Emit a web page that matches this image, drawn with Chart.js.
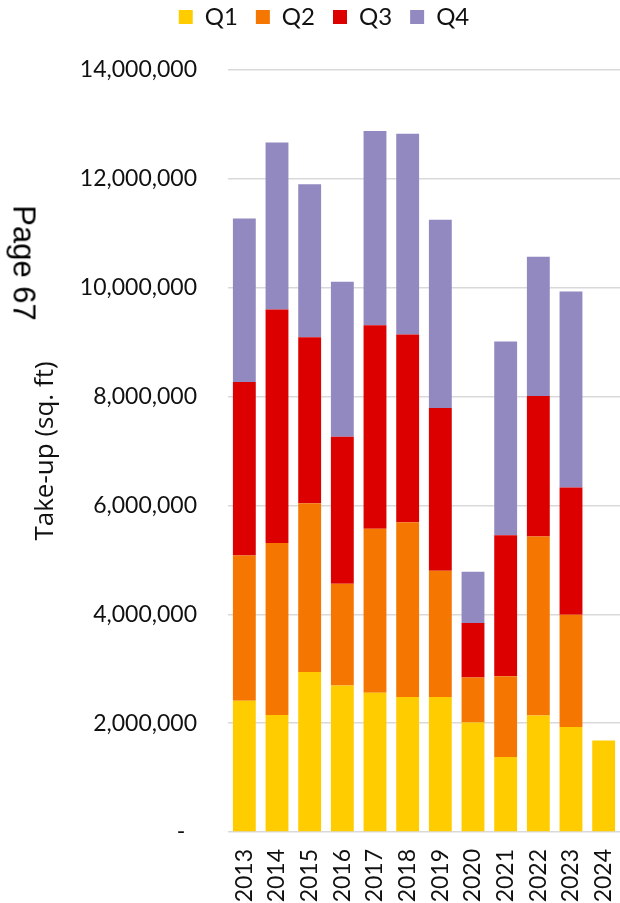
<!DOCTYPE html>
<html>
<head>
<meta charset="utf-8">
<script src="https://cdn.jsdelivr.net/npm/chart.js@4.4.1/dist/chart.umd.min.js"></script>
<style>
  html, body { margin: 0; padding: 0; background: #fff; overflow: hidden; }
  #wrap { position: relative; width: 620px; height: 912px; }
  #page {
    position: absolute; left: 23.5px; top: 262.5px;
    transform: translate(-50%, -50%) rotate(90deg);
    font: 31px "Liberation Sans", Arial, sans-serif; line-height: 1;
    white-space: nowrap; color: #000;
  }
</style>
</head>
<body>
<div id="wrap">
  <canvas id="chart"></canvas>
  <div id="page">Page 67</div>
</div>
<script>
// Annual office take-up by quarter (sq. ft)
const years = ['2013','2014','2015','2016','2017','2018','2019','2020','2021','2022','2023','2024'];
const q1 = [2410000, 2150000, 2940000, 2690000, 2560000, 2480000, 2480000, 2010000, 1380000, 2140000, 1930000, 1680000];
const q2 = [2670000, 3160000, 3100000, 1870000, 3010000, 3210000, 2320000,  830000, 1480000, 3290000, 2060000, null];
const q3 = [3190000, 4290000, 3050000, 2700000, 3740000, 3450000, 2990000, 1000000, 2590000, 2580000, 2340000, null];
const q4 = [3000000, 3070000, 2810000, 2850000, 3570000, 3690000, 3460000,  940000, 3560000, 2560000, 3600000, null];
const seriesNames = ['Q1', 'Q2', 'Q3', 'Q4'];
const seriesColors = ['#FFCC00', '#F57600', '#DC0000', '#9189C0'];
const yTicks = [0, 2000000, 4000000, 6000000, 8000000, 10000000, 12000000, 14000000];

const FONT = 'Lato, "Open Sans", sans-serif';

// move the legend row up and slightly right of centre
const legendShift = {
  id: 'legendShift',
  afterLayout(chart) {
    const lg = chart.legend;
    if (lg) {
      lg.left += 14; lg.right += 14;
      lg.top -= 31; lg.bottom -= 31;
    }
  }
};

new Chart(document.getElementById('chart'), {
  type: 'bar',
  data: {
    labels: years,
    datasets: [q1, q2, q3, q4].map((d, i) => ({
      label: seriesNames[i],
      data: d,
      backgroundColor: seriesColors[i],
      borderWidth: 0,
      barPercentage: 0.7,
      categoryPercentage: 1.0
    }))
  },
  options: {
    responsive: true,
    maintainAspectRatio: false,
    animation: false,
    layout: { padding: { top: 18, left: 0, right: 0, bottom: 0 } },
    plugins: {
      legend: {
        position: 'top',
        labels: {
          boxWidth: 14, boxHeight: 14, padding: 18,
          color: '#111',
          font: { family: FONT, size: 24 }
        }
      },
      tooltip: { enabled: false }
    },
    scales: {
      x: {
        stacked: true,
        grid: { display: false, drawTicks: false },
        border: { display: false },
        ticks: {
          minRotation: 90, maxRotation: 90, padding: 17,
          color: '#111',
          font: { family: FONT, size: 23 }
        },
        afterFit(axis) {
          axis.height = 80;
          axis.paddingLeft = 0;
          axis.paddingRight = 0;
        }
      },
      y: {
        stacked: true,
        min: 0, max: 14000000,
        afterBuildTicks(axis) { axis.ticks = yTicks.map(v => ({ value: v })); },
        grid: { color: '#D9D9D9', lineWidth: 1.5, drawTicks: false },
        border: { display: false },
        ticks: {
          padding: 31,
          color: '#111',
          font: { family: FONT, size: 23 },
          callback: v => v === 0 ? '-  ' : Number(v).toLocaleString('en-US')
        },
        title: {
          display: true,
          text: 'Take-up (sq. ft)',
          color: '#111',
          font: { family: '"Open Sans", sans-serif', size: 26 },
          padding: { top: 30, bottom: 0 }
        },
        afterFit(axis) { axis.width = 228; }
      }
    }
  },
  plugins: [legendShift]
});
</script>
</body>
</html>
